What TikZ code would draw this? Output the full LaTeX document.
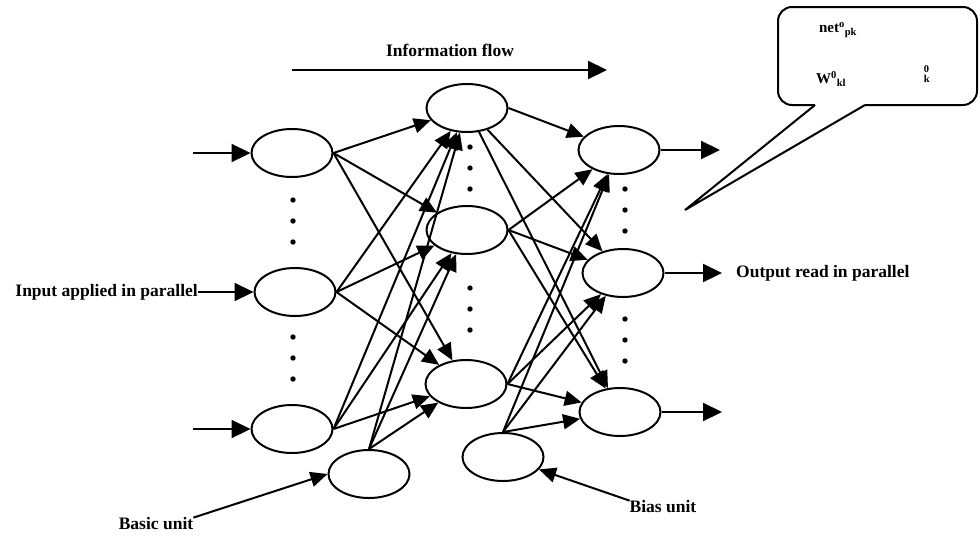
\documentclass[tikz,border=0pt]{standalone}
\usepackage{amsmath}
\usepackage{fontspec}
\setmainfont{Liberation Serif}
\usetikzlibrary{arrows.meta, shapes.geometric, calc}

\tikzset{
	unit/.style={ellipse, draw, line width=2pt, minimum width=81pt, minimum height=48pt, inner sep=0pt},
	conn/.style={line width=2pt, -{Triangle[length=17pt,width=15pt]}},
	bigconn/.style={line width=2.2pt, -{Triangle[length=19pt,width=18pt]}},
	lbl/.style={font=\fontsize{17.5}{20}\selectfont\bfseries, inner sep=0pt},
	callouttext/.style={font=\fontsize{15}{17}\selectfont\bfseries, inner sep=0pt},
}

\begin{document}
\begin{tikzpicture}[x=1pt, y=-1pt]
	\useasboundingbox (0,0) rectangle (980,539);
	% layers
	\node[unit] (i1) at (292,153) {};
	\node[unit] (i2) at (295,292) {};
	\node[unit] (i3) at (292,429) {};
	\node[unit] (h1) at (467,108) {};
	\node[unit] (h2) at (467,230) {};
	\node[unit] (h3) at (466,384) {};
	\node[unit] (o1) at (619,150) {};
	\node[unit] (o2) at (623,273) {};
	\node[unit] (o3) at (620,412) {};
	\node[unit] (b1) at (369,474) {};
	\node[unit] (b2) at (503,457) {};
	% weights
	\foreach \s in {i1,i2,i3} \foreach \t in {h1,h2,h3} \draw[conn] (\s.east) -- (\t);
	\foreach \t in {h1,h2,h3} \draw[conn] (b1.north) -- (\t);
	\draw[conn] (h1.east) -- (o1);
	\foreach \t in {o2,o3} \draw[conn] (h1) -- (\t);
	\foreach \s in {h2,h3} \foreach \t in {o1,o2,o3} \draw[conn] (\s.east) -- (\t);
	\foreach \t in {o1,o2,o3} \draw[conn] (b2.north) -- (\t);
	% dots
	\foreach \x/\ya/\yb in {293/200/337, 470/147/288, 625/189/319}
		\foreach \k in {0,1,2} {
			\fill (\x,\ya+21*\k) circle[radius=2.7pt];
			\fill (\x,\yb+21*\k) circle[radius=2.7pt];
		}
	% inputs and outputs
	\coordinate (i1in) at (193,153);
	\coordinate (i3in) at (193,429);
	\node[lbl, anchor=east] (inlbl) at (198,292) {Input applied in parallel};
	\draw[bigconn] (i1in) -- (i1.west);
	\draw[bigconn] (inlbl.east) -- (i2.west);
	\draw[bigconn] (i3in) -- (i3.west);
	\coordinate (o1out) at (720,150);
	\coordinate (o3out) at (722,412);
	\node[lbl, anchor=west, inner xsep=14pt] (outlbl) at (722,273) {Output read in parallel};
	\draw[bigconn] (o1.east) -- (o1out);
	\draw[bigconn] (o2.east) -- (outlbl.west);
	\draw[bigconn] (o3.east) -- (o3out);
	% flow
	\node[lbl] (flowlbl) at (450,50) {Information flow};
	\coordinate (flowa) at (292,70);
	\coordinate (flowb) at (607,70);
	\draw[bigconn] (flowa) -- (flowb);
	% unit labels
	\node[lbl] (basiclbl) at (156,524) {Basic unit};
	\draw[conn] (basiclbl.north east) -- (b1.west);
	\node[lbl] (biaslbl) at (663,507) {Bias unit};
	\draw[conn] (biaslbl.north west) -- (b2);
	% callout
	\draw[line width=2pt] (815,105) -- (685,210) -- (865,105);
	\draw[line width=2pt, rounded corners=14pt] (815,105) -- (778,105) -- (778,7) -- (977,7) -- (977,105) -- (865,105);
	\node[callouttext] (netlbl) at (838,30) {net$^{\text{o}}$$_{\text{pk}}$};
	\node[callouttext] (wlbl) at (831,79) {W$^{\text{0}}$$_{\text{kl}}$};
	\node[callouttext] (thlbl) at (927,74) {${}^{\text{0}}_{\text{k}}$};
\end{tikzpicture}
\end{document}
